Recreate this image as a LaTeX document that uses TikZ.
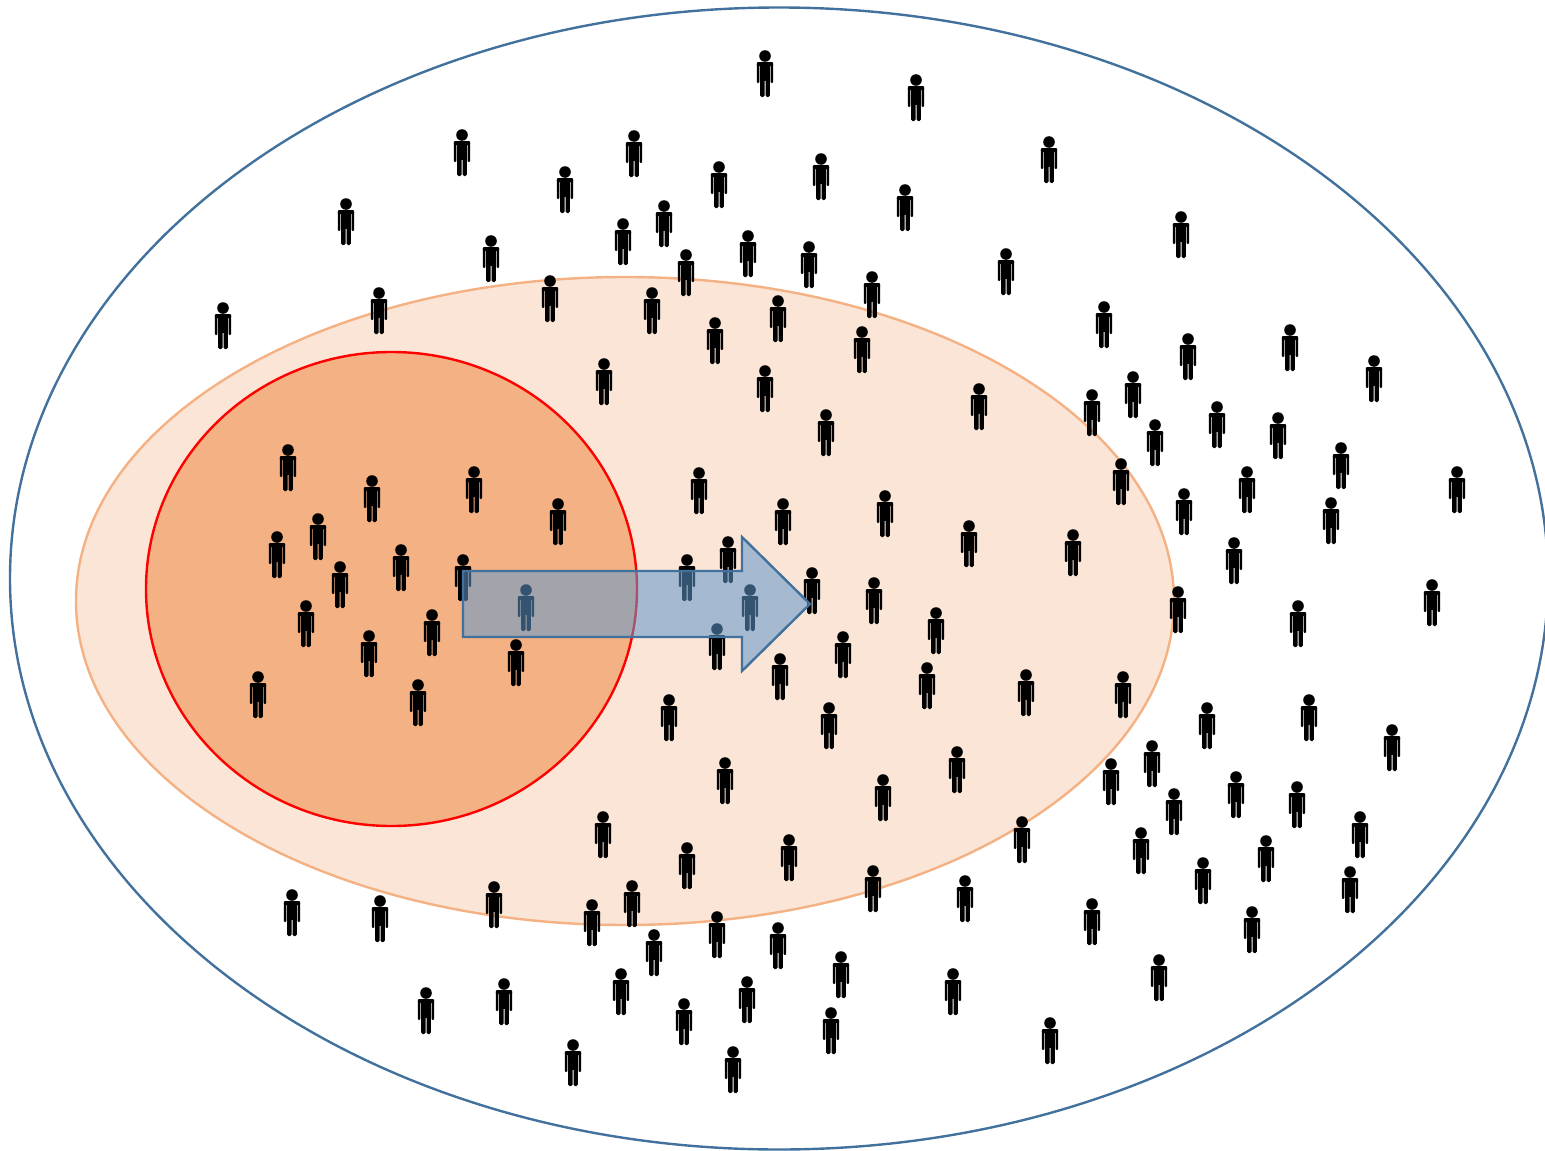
\documentclass[tikz,border=0pt]{standalone}
\usepackage{xcolor}
\usetikzlibrary{shapes.geometric}
\definecolor{outerblue}{HTML}{41719C}
\definecolor{arrowblue}{HTML}{6098CC}
\definecolor{peach}{HTML}{FBE5D6}
\definecolor{salmon}{HTML}{F4B183}

\begin{document}
\begin{tikzpicture}[x=1pt, y=-1pt,
    region/.style={ellipse, draw, inner sep=0pt, line width=2.4pt},
    person/.pic={
        \fill (0,0) circle (5.8);
        \fill[rounded corners=1] (-8.2,6) rectangle (8.2,10);
        \fill[rounded corners=1] (-8.2,7) rectangle (-5.6,27);
        \fill[rounded corners=1] (5.6,7) rectangle (8.2,27);
        \fill (-4.9,7) rectangle (4.9,25);
        \fill[rounded corners=1.5] (-4.9,22) rectangle (-0.5,41);
        \fill[rounded corners=1.5] (0.5,22) rectangle (4.9,41);
    }]

    \useasboundingbox (0,0) rectangle (1545,1151);

    % Nested regions
    \node[region, draw=outerblue, minimum width=1538pt, minimum height=1142pt] (world) at (779,578.5) {};
    \node[region, draw=salmon, fill=peach, minimum width=1098pt, minimum height=648pt] (wider) at (625,601) {};
    \node[region, draw=red, fill=salmon, minimum width=491pt, minimum height=474pt] (core) at (391.5,589) {};

    % People
    \foreach \px/\py in {
        765/56, 916/80, 462/135, 634/136, 565/172, 719/167, 821/159, 1049/142,
        346/204, 905/190, 664/206, 623/224, 491/241, 748/236, 809/247, 686/255,
        1181/217, 1006/254, 872/277, 379/293, 550/281, 223/308, 652/293, 778/301,
        715/323, 1104/307, 862/332, 1188/339, 1290/330, 604/364, 1374/361, 765/371,
        1133/377, 1092/395, 979/389, 826/415, 1217/407, 1155/425, 1278/418, 1341/448,
        288/450, 372/481, 474/472, 699/473, 1121/464, 1247/472, 1457/472, 558/504,
        783/504, 885/496, 1184/494, 1331/503, 318/519, 277/537, 969/526, 1073/535,
        728/542, 1234/543, 401/550, 463/560, 687/560, 340/567, 812/573, 874/583,
        1432/585, 526/590, 750/590, 1178/592, 306/606, 432/615, 936/613, 1298/606,
        717/629, 369/636, 843/637, 516/645, 780/659, 927/668, 258/677, 1026/675,
        1123/677, 418/685, 669/700, 1309/700, 1207/708, 829/708, 1392/730, 1152/746,
        957/752, 725/763, 1111/764, 1236/777, 883/780, 1297/787, 1174/794, 603/817,
        1360/817, 1022/822, 1141/833, 789/840, 1266/841, 687/848, 1203/863, 873/871,
        1350/872, 965/881, 632/886, 494/887, 292/895, 380/901, 1092/904, 592/905,
        1252/912, 717/917, 778/928, 654/935, 841/957, 1159/960, 621/974, 953/974,
        504/984, 747/982, 426/993, 684/1004, 831/1013, 1050/1023, 573/1045, 733/1052}
        \pic at (\px,\py) {person};

    % Arrow
    \draw[draw=outerblue, line width=2.4pt, fill=arrowblue, fill opacity=0.55, line join=miter]
        (463,571) -- (742,571) -- (742,537) -- (810,604) -- (742,671) -- (742,637) -- (463,637) -- cycle;
\end{tikzpicture}
\end{document}
